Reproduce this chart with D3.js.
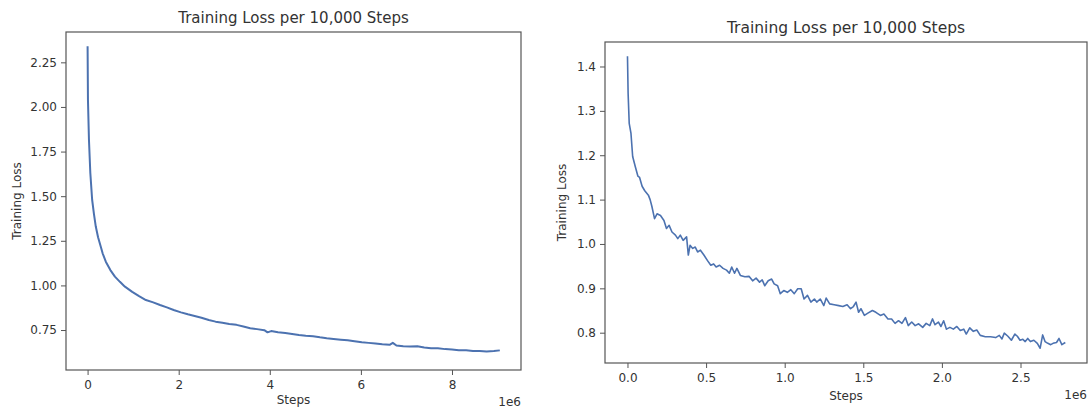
<!DOCTYPE html>
<html>
<head>
<meta charset="utf-8">
<script src="https://cdn.jsdelivr.net/npm/d3@7"></script>
<style>
  html, body { margin: 0; padding: 0; background: #fff; }
  svg text { font-family: "DejaVu Sans", sans-serif; fill: #333; }
</style>
</head>
<body>
<svg id="chart" width="1089" height="408"></svg>
<script>
// ----------------------
// 1. Data
// ----------------------
const titleText = "Training Loss per 10,000 Steps";

// left run, ~9M steps
const leftSteps = [0, 8000, 30000, 60000, 100000, 140000, 180000, 230000, 290000, 330000,
  400000, 500000, 600000, 710000, 820000, 980000, 1130000, 1280000, 1440000, 1590000,
  1740000, 1890000, 2050000, 2200000, 2350000, 2500000, 2660000, 2810000, 2960000, 3110000,
  3270000, 3420000, 3570000, 3720000, 3880000, 3950000, 4030000, 4180000, 4340000, 4490000,
  4640000, 4790000, 4950000, 5100000, 5250000, 5400000, 5560000, 5710000, 5860000, 6020000,
  6170000, 6320000, 6470000, 6630000, 6700000, 6780000, 6930000, 7080000, 7240000, 7390000,
  7540000, 7690000, 7850000, 8000000, 8150000, 8310000, 8460000, 8610000, 8760000, 8920000,
  9050000];
const leftLoss = [2.34, 2.04, 1.816, 1.63, 1.48, 1.40, 1.33, 1.27, 1.217, 1.18,
  1.133, 1.086, 1.049, 1.02, 0.993, 0.964, 0.94, 0.918, 0.905, 0.89,
  0.877, 0.862, 0.849, 0.838, 0.829, 0.819, 0.806, 0.797, 0.791, 0.784,
  0.779, 0.770, 0.760, 0.755, 0.749, 0.737, 0.744, 0.737, 0.733, 0.728,
  0.722, 0.718, 0.715, 0.709, 0.704, 0.700, 0.696, 0.693, 0.687, 0.681,
  0.678, 0.674, 0.670, 0.667, 0.678, 0.663, 0.659, 0.657, 0.659, 0.652,
  0.648, 0.648, 0.643, 0.641, 0.637, 0.637, 0.633, 0.633, 0.630, 0.632,
  0.636];

// right run, ~2.8M steps
const rightSteps = [0, 4000, 11000, 22000, 33000, 49000, 66000, 77000, 93000, 110000,
  133000, 144000, 155000, 172000, 188000, 210000, 232000, 248000, 265000, 283000,
  305000, 320000, 336000, 354000, 376000, 387000, 398000, 415000, 431000, 446000,
  464000, 486000, 508000, 530000, 548000, 564000, 586000, 608000, 630000, 648000,
  663000, 681000, 696000, 718000, 747000, 773000, 796000, 818000, 840000, 857000,
  873000, 895000, 917000, 933000, 955000, 972000, 994000, 1017000, 1039000, 1061000,
  1083000, 1105000, 1123000, 1145000, 1167000, 1189000, 1204000, 1226000, 1249000, 1264000,
  1286000, 1315000, 1344000, 1370000, 1397000, 1419000, 1437000, 1454000, 1470000, 1485000,
  1507000, 1529000, 1558000, 1580000, 1609000, 1631000, 1657000, 1680000, 1702000, 1724000,
  1746000, 1768000, 1786000, 1808000, 1830000, 1852000, 1878000, 1900000, 1923000, 1940000,
  1956000, 1978000, 1994000, 2011000, 2029000, 2051000, 2073000, 2095000, 2117000, 2139000,
  2155000, 2177000, 2200000, 2222000, 2244000, 2276000, 2309000, 2342000, 2365000, 2382000,
  2397000, 2420000, 2442000, 2464000, 2480000, 2497000, 2515000, 2530000, 2546000, 2563000,
  2585000, 2607000, 2625000, 2641000, 2656000, 2674000, 2692000, 2707000, 2729000, 2745000,
  2763000, 2785000];
const rightLoss = [1.423, 1.34, 1.272, 1.25, 1.197, 1.175, 1.153, 1.15, 1.13, 1.12,
  1.11, 1.10, 1.085, 1.057, 1.068, 1.064, 1.053, 1.035, 1.042, 1.027,
  1.02, 1.012, 1.02, 1.008, 1.016, 0.975, 0.997, 0.99, 0.993, 0.982,
  0.986, 0.975, 0.963, 0.952, 0.955, 0.948, 0.952, 0.945, 0.941, 0.934,
  0.948, 0.934, 0.945, 0.929, 0.926, 0.927, 0.917, 0.923, 0.914, 0.919,
  0.906, 0.917, 0.921, 0.910, 0.906, 0.888, 0.895, 0.891, 0.897, 0.888,
  0.899, 0.899, 0.876, 0.884, 0.869, 0.876, 0.869, 0.876, 0.861, 0.878,
  0.865, 0.863, 0.861, 0.859, 0.863, 0.854, 0.859, 0.869, 0.846, 0.854,
  0.839, 0.844, 0.850, 0.846, 0.839, 0.842, 0.831, 0.831, 0.821, 0.827,
  0.821, 0.834, 0.816, 0.824, 0.816, 0.820, 0.812, 0.821, 0.816, 0.831,
  0.818, 0.824, 0.814, 0.827, 0.808, 0.812, 0.808, 0.814, 0.805, 0.808,
  0.797, 0.811, 0.803, 0.806, 0.794, 0.791, 0.791, 0.789, 0.794, 0.786,
  0.799, 0.792, 0.783, 0.797, 0.792, 0.783, 0.785, 0.780, 0.787, 0.780,
  0.783, 0.776, 0.765, 0.795, 0.780, 0.776, 0.773, 0.776, 0.778, 0.787,
  0.773, 0.778];

// tick values
const leftXTicks = [0, 2e6, 4e6, 6e6, 8e6];
const leftYTicks = [0.75, 1.00, 1.25, 1.50, 1.75, 2.00, 2.25];
const rightXTicks = [0, 0.5e6, 1.0e6, 1.5e6, 2.0e6, 2.5e6];
const rightYTicks = [0.8, 0.9, 1.0, 1.1, 1.2, 1.3, 1.4];

// ----------------------
// 2. Panels
// ----------------------
const svg = d3.select("#chart");
svg.append("rect").attr("width", 1089).attr("height", 408).attr("fill", "#fff");

const lineColor = "#4c72b0";
const frameColor = "#555";

function drawPanel(p) {
  const g = svg.append("g");
  const x = d3.scaleLinear().domain(p.xDomain).range([p.left, p.right]);
  const y = d3.scaleLinear().domain(p.yDomain).range([p.bottom, p.top]);

  // axes (ticks only, frame drawn separately)
  const xAxis = g.append("g")
    .attr("transform", `translate(0,${p.bottom})`)
    .call(d3.axisBottom(x).tickValues(p.xTicks).tickSize(5).tickPadding(5)
      .tickFormat(d => d3.format(p.xFmt)(d / 1e6)));
  const yAxis = g.append("g")
    .attr("transform", `translate(${p.left},0)`)
    .call(d3.axisLeft(y).tickValues(p.yTicks).tickSize(5).tickPadding(4)
      .tickFormat(d3.format(p.yFmt)));
  [xAxis, yAxis].forEach(a => {
    a.select(".domain").remove();
    a.selectAll(".tick line").attr("stroke", frameColor);
    a.selectAll(".tick text").attr("font-size", 12).attr("fill", "#333")
      .attr("font-family", "DejaVu Sans, sans-serif");
  });

  // the curve
  const series = p.steps.map((s, i) => ({ step: s, loss: p.loss[i] }));
  g.append("path")
    .datum(series)
    .attr("fill", "none")
    .attr("stroke", lineColor)
    .attr("stroke-width", p.lw)
    .attr("stroke-linejoin", "round")
    .attr("d", d3.line().x(d => x(d.step)).y(d => y(d.loss)));

  // frame
  g.append("rect")
    .attr("x", p.left).attr("y", p.top)
    .attr("width", p.right - p.left).attr("height", p.bottom - p.top)
    .attr("fill", "none").attr("stroke", frameColor).attr("stroke-width", 1.2);

  // titles / labels
  g.append("text")
    .attr("x", (p.left + p.right) / 2).attr("y", p.top - 9)
    .attr("text-anchor", "middle").attr("font-size", p.titleSize)
    .text(titleText);
  g.append("text")
    .attr("x", (p.left + p.right) / 2).attr("y", Math.min(p.bottom + 37, 404))
    .attr("text-anchor", "middle").attr("font-size", 12)
    .text("Steps");
  g.append("text")
    .attr("x", p.right).attr("y", p.bottom + 36)
    .attr("text-anchor", "end").attr("font-size", 12)
    .text("1e6");
  g.append("text")
    .attr("transform", `translate(${p.yLabelX},${(p.top + p.bottom) / 2}) rotate(-90)`)
    .attr("text-anchor", "middle").attr("font-size", 12)
    .text("Training Loss");
}

drawPanel({
  left: 66, right: 521, top: 32, bottom: 370,
  xDomain: [-0.474e6, 9.515e6], yDomain: [0.526, 2.42],
  xTicks: leftXTicks, yTicks: leftYTicks, xFmt: "d", yFmt: ".2f",
  steps: leftSteps, loss: leftLoss, lw: 2, titleSize: 15, yLabelX: 21
});

drawPanel({
  left: 605, right: 1087, top: 42, bottom: 363,
  xDomain: [-0.143e6, 2.923e6], yDomain: [0.7317, 1.4552],
  xTicks: rightXTicks, yTicks: rightYTicks, xFmt: ".1f", yFmt: ".1f",
  steps: rightSteps, loss: rightLoss, lw: 1.6, titleSize: 15.5, yLabelX: 566
});
</script>
</body>
</html>
